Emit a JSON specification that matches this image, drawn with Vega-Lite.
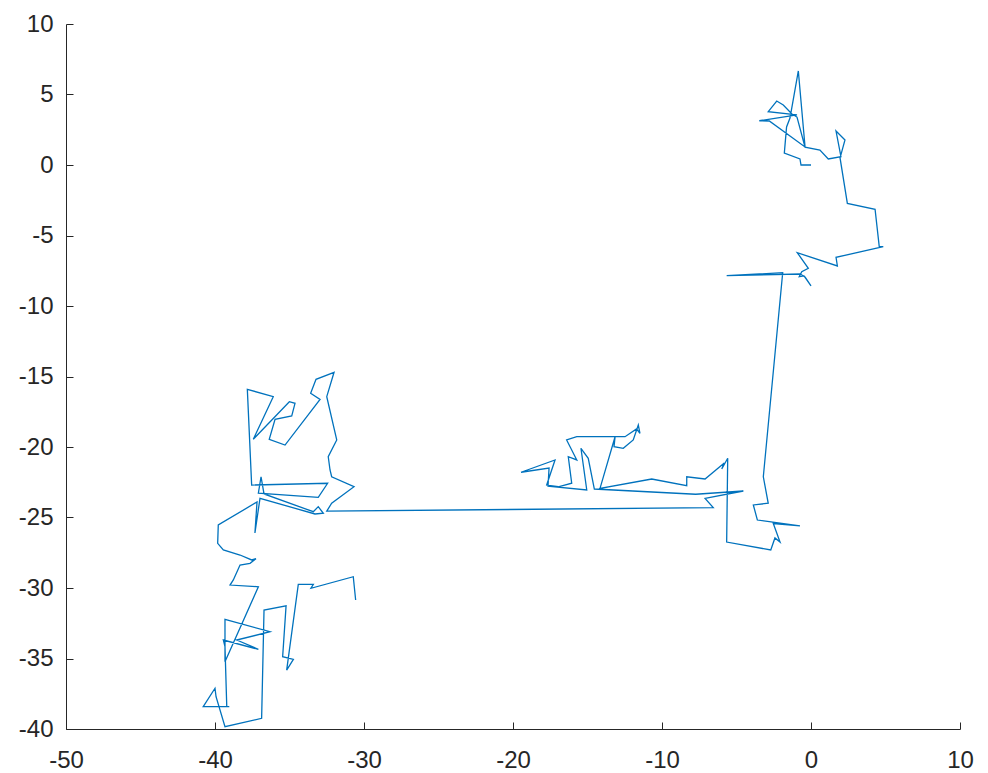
{
  "$schema": "https://vega.github.io/schema/vega-lite/v6.json",
  "width": 894,
  "height": 705,
  "autosize": {"type": "none"},
  "padding": {"left": 66, "top": 24, "right": 28, "bottom": 44},
  "background": "white",
  "config": {
    "view": {"stroke": null},
    "axis": {
      "grid": false,
      "domainColor": "#262626",
      "domainWidth": 1,
      "tickColor": "#262626",
      "tickWidth": 1,
      "tickSize": -7,
      "labelFont": "Liberation Sans",
      "labelFontSize": 24,
      "labelColor": "#262626",
      "labelExpr": "'' + datum.value",
      "title": null
    }
  },
  "data": {
    "values": [
      {"i": 1, "x": 0.0, "y": 0.0},
      {"i": 2, "x": -0.67, "y": 0.0},
      {"i": 3, "x": -0.74, "y": 0.43},
      {"i": 4, "x": -1.79, "y": 0.85},
      {"i": 5, "x": -1.64, "y": 2.7},
      {"i": 6, "x": -1.41, "y": 3.33},
      {"i": 7, "x": -0.85, "y": 6.67},
      {"i": 8, "x": -0.4, "y": 1.28},
      {"i": 9, "x": -2.8, "y": 3.12},
      {"i": 10, "x": -3.47, "y": 3.14},
      {"i": 11, "x": -0.94, "y": 3.55},
      {"i": 12, "x": -2.87, "y": 3.78},
      {"i": 13, "x": -2.3, "y": 4.54},
      {"i": 14, "x": -1.86, "y": 4.26},
      {"i": 15, "x": -1.28, "y": 3.62},
      {"i": 16, "x": -0.94, "y": 3.4},
      {"i": 17, "x": -0.4, "y": 1.26},
      {"i": 18, "x": 0.6, "y": 1.06},
      {"i": 19, "x": 1.16, "y": 0.43},
      {"i": 20, "x": 2.01, "y": 0.59},
      {"i": 21, "x": 1.68, "y": 2.41},
      {"i": 22, "x": 2.28, "y": 1.77},
      {"i": 23, "x": 1.95, "y": 0.5},
      {"i": 24, "x": 2.44, "y": -2.72},
      {"i": 25, "x": 4.3, "y": -3.14},
      {"i": 26, "x": 4.58, "y": -5.79},
      {"i": 27, "x": 4.85, "y": -5.79},
      {"i": 28, "x": 1.68, "y": -6.55},
      {"i": 29, "x": 1.77, "y": -7.16},
      {"i": 30, "x": -0.92, "y": -6.22},
      {"i": 31, "x": -0.18, "y": -7.33},
      {"i": 32, "x": -0.62, "y": -7.57},
      {"i": 33, "x": -0.79, "y": -7.92},
      {"i": 34, "x": -0.47, "y": -7.87},
      {"i": 35, "x": 0.0, "y": -8.58},
      {"i": 36, "x": -0.4, "y": -7.94},
      {"i": 37, "x": -0.74, "y": -7.73},
      {"i": 38, "x": -5.66, "y": -7.85},
      {"i": 39, "x": -1.9, "y": -7.64},
      {"i": 40, "x": -3.2, "y": -22.11},
      {"i": 41, "x": -2.87, "y": -23.99},
      {"i": 42, "x": -3.87, "y": -24.11},
      {"i": 43, "x": -3.6, "y": -25.18},
      {"i": 44, "x": -0.74, "y": -25.6},
      {"i": 45, "x": -2.53, "y": -25.43},
      {"i": 46, "x": -2.08, "y": -26.74},
      {"i": 47, "x": -2.42, "y": -26.45},
      {"i": 48, "x": -2.7, "y": -27.3},
      {"i": 49, "x": -5.66, "y": -26.74},
      {"i": 50, "x": -5.59, "y": -20.8},
      {"i": 51, "x": -5.99, "y": -21.56},
      {"i": 52, "x": -5.82, "y": -21.13},
      {"i": 53, "x": -7.11, "y": -22.27},
      {"i": 54, "x": -8.34, "y": -22.11},
      {"i": 55, "x": -8.34, "y": -22.74},
      {"i": 56, "x": -10.69, "y": -22.27},
      {"i": 57, "x": -14.16, "y": -22.93},
      {"i": 58, "x": -13.15, "y": -19.27},
      {"i": 59, "x": -13.22, "y": -19.98},
      {"i": 60, "x": -12.6, "y": -20.09},
      {"i": 61, "x": -11.93, "y": -19.5},
      {"i": 62, "x": -11.59, "y": -18.44},
      {"i": 63, "x": -11.48, "y": -19.03},
      {"i": 64, "x": -11.71, "y": -18.72},
      {"i": 65, "x": -12.48, "y": -19.27},
      {"i": 66, "x": -15.72, "y": -19.27},
      {"i": 67, "x": -16.4, "y": -19.5},
      {"i": 68, "x": -15.72, "y": -20.92},
      {"i": 69, "x": -16.29, "y": -20.69},
      {"i": 70, "x": -16.06, "y": -22.57},
      {"i": 71, "x": -16.96, "y": -22.82},
      {"i": 72, "x": -17.74, "y": -22.7},
      {"i": 73, "x": -17.18, "y": -20.92},
      {"i": 74, "x": -19.46, "y": -21.79},
      {"i": 75, "x": -17.58, "y": -21.49},
      {"i": 76, "x": -17.65, "y": -22.77},
      {"i": 77, "x": -15.05, "y": -23.05},
      {"i": 78, "x": -15.44, "y": -20.09},
      {"i": 79, "x": -14.95, "y": -20.8},
      {"i": 80, "x": -14.54, "y": -22.98},
      {"i": 81, "x": -7.74, "y": -23.35},
      {"i": 82, "x": -4.54, "y": -23.12},
      {"i": 83, "x": -7.11, "y": -23.64},
      {"i": 84, "x": -6.56, "y": -24.3},
      {"i": 85, "x": -32.5, "y": -24.55},
      {"i": 86, "x": -32.17, "y": -23.99},
      {"i": 87, "x": -30.67, "y": -22.82},
      {"i": 88, "x": -32.17, "y": -22.11},
      {"i": 89, "x": -32.28, "y": -21.63},
      {"i": 90, "x": -32.4, "y": -20.69},
      {"i": 91, "x": -31.83, "y": -19.5},
      {"i": 92, "x": -32.5, "y": -16.43},
      {"i": 93, "x": -32.01, "y": -14.7},
      {"i": 94, "x": -33.22, "y": -15.2},
      {"i": 95, "x": -33.58, "y": -16.19},
      {"i": 96, "x": -32.95, "y": -16.62},
      {"i": 97, "x": -35.3, "y": -19.86},
      {"i": 98, "x": -36.36, "y": -19.45},
      {"i": 99, "x": -35.97, "y": -18.04},
      {"i": 100, "x": -34.85, "y": -17.8},
      {"i": 101, "x": -34.63, "y": -16.9},
      {"i": 102, "x": -35.01, "y": -16.79},
      {"i": 103, "x": -37.43, "y": -19.45},
      {"i": 104, "x": -36.09, "y": -16.43},
      {"i": 105, "x": -37.83, "y": -15.91},
      {"i": 106, "x": -37.54, "y": -22.7},
      {"i": 107, "x": -32.44, "y": -22.57},
      {"i": 108, "x": -33.07, "y": -23.57},
      {"i": 109, "x": -37.09, "y": -23.28},
      {"i": 110, "x": -36.91, "y": -22.11},
      {"i": 111, "x": -36.71, "y": -23.33},
      {"i": 112, "x": -33.4, "y": -24.59},
      {"i": 113, "x": -33.07, "y": -24.23},
      {"i": 114, "x": -32.73, "y": -24.7},
      {"i": 115, "x": -33.29, "y": -24.75},
      {"i": 116, "x": -36.98, "y": -23.64},
      {"i": 117, "x": -37.32, "y": -26.1},
      {"i": 118, "x": -37.18, "y": -23.9},
      {"i": 119, "x": -39.78, "y": -25.53},
      {"i": 120, "x": -39.82, "y": -26.83},
      {"i": 121, "x": -39.44, "y": -27.3},
      {"i": 122, "x": -38.32, "y": -27.66},
      {"i": 123, "x": -37.54, "y": -28.01},
      {"i": 124, "x": -37.25, "y": -27.92},
      {"i": 125, "x": -37.65, "y": -28.25},
      {"i": 126, "x": -38.32, "y": -28.37},
      {"i": 127, "x": -38.77, "y": -29.43},
      {"i": 128, "x": -38.99, "y": -29.79},
      {"i": 129, "x": -37.09, "y": -29.91},
      {"i": 130, "x": -39.33, "y": -35.23},
      {"i": 131, "x": -39.33, "y": -32.22},
      {"i": 132, "x": -36.31, "y": -33.1},
      {"i": 133, "x": -38.54, "y": -33.69},
      {"i": 134, "x": -37.09, "y": -34.35},
      {"i": 135, "x": -39.44, "y": -33.69},
      {"i": 136, "x": -39.33, "y": -34.16},
      {"i": 137, "x": -39.21, "y": -38.42},
      {"i": 138, "x": -39.04, "y": -38.42},
      {"i": 139, "x": -40.79, "y": -38.42},
      {"i": 140, "x": -40.0, "y": -37.11},
      {"i": 141, "x": -39.93, "y": -37.71},
      {"i": 142, "x": -39.33, "y": -39.84},
      {"i": 143, "x": -36.87, "y": -39.24},
      {"i": 144, "x": -36.71, "y": -31.56},
      {"i": 145, "x": -35.23, "y": -31.26},
      {"i": 146, "x": -35.46, "y": -34.87},
      {"i": 147, "x": -34.74, "y": -35.06},
      {"i": 148, "x": -35.19, "y": -35.82},
      {"i": 149, "x": -34.41, "y": -29.74},
      {"i": 150, "x": -33.4, "y": -29.74},
      {"i": 151, "x": -33.56, "y": -30.02},
      {"i": 152, "x": -30.72, "y": -29.2},
      {"i": 153, "x": -30.56, "y": -30.85}
    ]
  },
  "mark": {"type": "line", "color": "#0072BD", "strokeWidth": 1.3, "clip": true},
  "encoding": {
    "x": {
      "field": "x",
      "type": "quantitative",
      "scale": {"domain": [-50, 10], "nice": false, "zero": false},
      "axis": {"values": [-50, -40, -30, -20, -10, 0, 10], "labelPadding": 26, "labelFlush": false}
    },
    "y": {
      "field": "y",
      "type": "quantitative",
      "scale": {"domain": [-40, 10], "nice": false, "zero": false},
      "axis": {"values": [-40, -35, -30, -25, -20, -15, -10, -5, 0, 5, 10], "labelPadding": 20, "labelFlush": false}
    },
    "order": {"field": "i", "type": "quantitative"}
  }
}
